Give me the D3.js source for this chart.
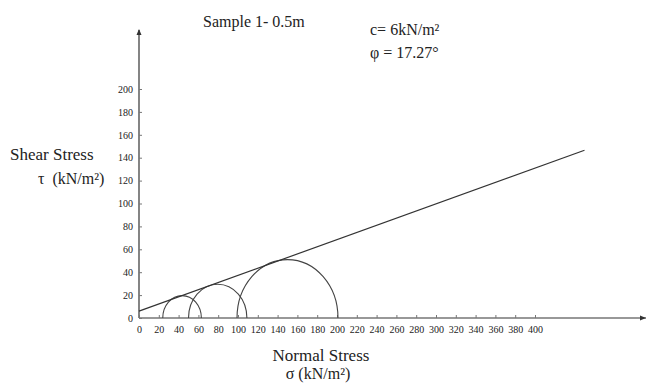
<!DOCTYPE html>
<html>
<head>
<meta charset="utf-8">
<script src="https://cdn.jsdelivr.net/npm/d3@7"></script>
<style>
  body { margin: 0; background: #fff; }
  svg text { font-family: "Liberation Serif", "DejaVu Serif", serif; fill: #222; }
</style>
</head>
<body>
<div id="chart"></div>
<script>
// Mohr circles: minor / major principal stress (kN/m2)
const sigma3 = [24, 50, 99];
const sigma1 = [63, 109, 201];
// failure envelope end points [sigma, tau]
const envelope = [[0, 6], [450, 146.5]];
const xTicks = [0, 20, 40, 60, 80, 100, 120, 140, 160, 180, 200, 220, 240, 260, 280, 300, 320, 340, 360, 380, 400];
const yTicks = [0, 20, 40, 60, 80, 100, 120, 140, 160, 180, 200];

const width = 649, height = 385;

const svg = d3.select("#chart")
  .append("svg")
  .attr("width", width)
  .attr("height", height);

const x = d3.scaleLinear().domain([0, 400]).range([139, 535]);
const y = d3.scaleLinear().domain([0, 200]).range([318, 89]);

const axisColor = "#333";

// axis lines with arrows
svg.append("line")
  .attr("x1", x(0)).attr("y1", y(0))
  .attr("x2", 646).attr("y2", y(0))
  .attr("stroke", axisColor).attr("stroke-width", 1.2);
svg.append("path")
  .attr("d", `M646,${y(0)} l-6,-2.5 l0,5 Z`)
  .attr("fill", axisColor);

svg.append("line")
  .attr("x1", x(0)).attr("y1", y(0))
  .attr("x2", x(0)).attr("y2", 30)
  .attr("stroke", axisColor).attr("stroke-width", 1.2);
svg.append("path")
  .attr("d", `M${x(0)},29 l-2.5,6 l5,0 Z`)
  .attr("fill", axisColor);

const xAxis = d3.axisBottom(x).tickValues(xTicks).tickSizeInner(-3).tickSizeOuter(0).tickPadding(8);
const yAxis = d3.axisLeft(y).tickValues(yTicks).tickSizeInner(-3).tickSizeOuter(0).tickPadding(6);

const gx = svg.append("g")
  .attr("transform", `translate(0,${y(0)})`)
  .call(xAxis);
const gy = svg.append("g")
  .attr("transform", `translate(${x(0)},0)`)
  .call(yAxis);

[gx, gy].forEach(g => {
  g.attr("font-family", null);
  g.select(".domain").remove();
  g.selectAll(".tick line").attr("stroke", "#777");
  g.selectAll(".tick text")
    .style("font-family", "'Liberation Serif', serif")
    .attr("font-size", 10)
    .attr("fill", "#222");
});

// Mohr circles (upper halves)
svg.selectAll(".circle")
  .data(sigma3.map((s, i) => ({ s3: s, s1: sigma1[i] })))
  .enter().append("path")
  .attr("class", "circle")
  .attr("fill", "none")
  .attr("stroke", "#444")
  .attr("stroke-width", 1.1)
  .attr("d", d => {
    const r = (d.s1 - d.s3) / 2;
    const rx = x(r) - x(0);
    const ry = y(0) - y(r);
    return `M${x(d.s3)},${y(0)} A${rx},${ry} 0 0 1 ${x(d.s1)},${y(0)}`;
  });

// failure envelope
svg.append("path")
  .datum(envelope)
  .attr("fill", "none")
  .attr("stroke", "#333")
  .attr("stroke-width", 1.2)
  .attr("d", d3.line().x(d => x(d[0])).y(d => y(d[1])));

// texts
svg.append("text")
  .attr("x", 203).attr("y", 27)
  .attr("font-size", 16)
  .text("Sample 1- 0.5m");

svg.append("text")
  .attr("x", 370).attr("y", 35)
  .attr("font-size", 16)
  .text("c= 6kN/m²");
svg.append("text")
  .attr("x", 370).attr("y", 58)
  .attr("font-size", 16)
  .text("φ = 17.27°");

svg.append("text")
  .attr("x", 10).attr("y", 160)
  .attr("font-size", 17)
  .text("Shear Stress");
svg.append("text")
  .attr("x", 38).attr("y", 184)
  .attr("font-size", 16)
  .attr("xml:space", "preserve")
  .text("τ  (kN/m²)");

svg.append("text")
  .attr("x", 321).attr("y", 361)
  .attr("text-anchor", "middle")
  .attr("font-size", 17)
  .text("Normal Stress");
svg.append("text")
  .attr("x", 318).attr("y", 379)
  .attr("text-anchor", "middle")
  .attr("font-size", 16)
  .text("σ (kN/m²)");
</script>
</body>
</html>
